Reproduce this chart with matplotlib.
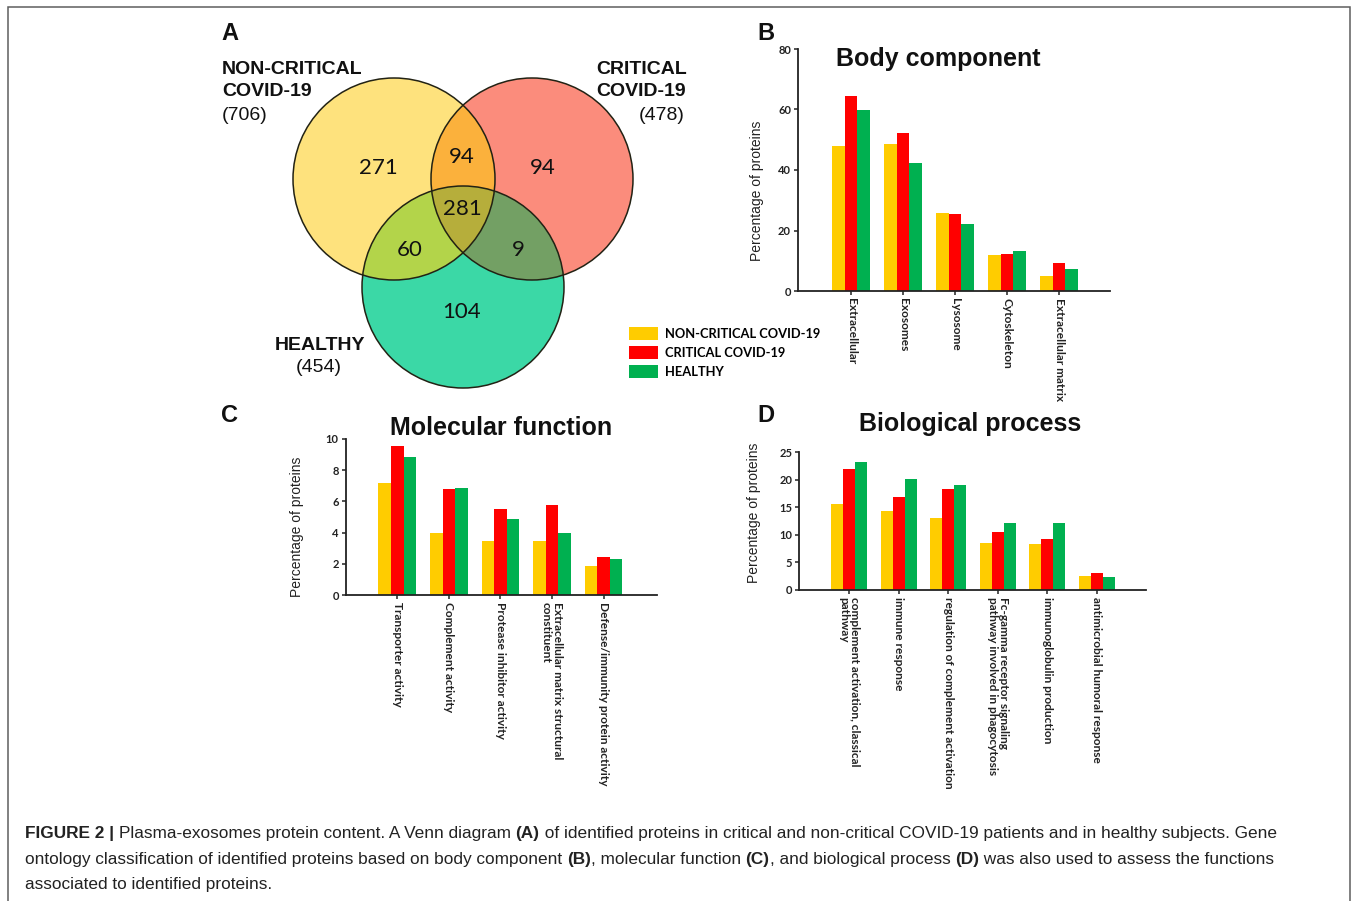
import numpy as np
import matplotlib
matplotlib.use("Agg")
import matplotlib.pyplot as plt
from matplotlib.patches import Circle, Polygon, Patch

# ---------------- data ----------------
groups = ["NON-CRITICAL COVID-19", "CRITICAL COVID-19", "HEALTHY"]
bar_colors = ["#FFCC00", "#FF0000", "#00B050"]

# Venn region counts (N = non-critical, C = critical, H = healthy)
venn_only_n = 271
venn_only_c = 94
venn_only_h = 104
venn_n_c = 94
venn_n_h = 60
venn_c_h = 9
venn_all = 281
venn_totals = [706, 478, 454]

body_cats = ["Extracellular", "Exosomes", "Lysosome", "Cytoskeleton", "Extracellular matrix"]
body_noncrit = [48.0, 48.7, 25.8, 11.8, 5.1]
body_crit = [64.5, 52.1, 25.6, 12.1, 9.3]
body_healthy = [59.8, 42.4, 22.0, 13.1, 7.3]

mol_cats = ["Transporter activity", "Complement activity", "Protease inhibitor activity",
            "Extracellular matrix structural\nconstituent", "Defense/immunity protein activity"]
mol_noncrit = [7.16, 4.0, 3.48, 3.48, 1.86]
mol_crit = [9.57, 6.81, 5.49, 5.75, 2.46]
mol_healthy = [8.83, 6.83, 4.87, 4.0, 2.29]

bio_cats = ["complement activation, classical\npathway", "immune response",
            "regulation of complement activation",
            "Fc-gamma receptor signaling\npathway involved in phagocytosis",
            "immunoglobulin production", "antimicrobial humoral response"]
bio_noncrit = [15.6, 14.3, 13.0, 8.5, 8.3, 2.5]
bio_crit = [22.0, 16.9, 18.3, 10.5, 9.3, 3.0]
bio_healthy = [23.3, 20.1, 19.0, 12.1, 12.1, 2.3]

# ---------------- figure ----------------
W, H = 1356, 901
fig = plt.figure(figsize=(W / 100, H / 100), dpi=100)
fig.patch.set_facecolor("white")

# pixel-space canvas for the Venn diagram, labels, caption and frame
ax0 = fig.add_axes([0, 0, 1, 1])
ax0.set_xlim(0, W)
ax0.set_ylim(H, 0)
ax0.axis("off")

ARIAL = "Liberation Sans"
CAL = "Lato"

# frame around the figure
ax0.plot([8, 8, 1350, 1350], [905, 6.5, 6.5, 905], color="#5e5e5e", lw=1.1,
         solid_joinstyle="miter", clip_on=False)

# ---------------- Venn diagram ----------------
r = 101
cN = np.array([394.0, 179.0])
cC = np.array([532.0, 179.0])
cH = np.array([463.0, 287.0])

col_n, col_c, col_h = "#FEE27D", "#FB8C7C", "#3BD8A6"
col_nc, col_nh, col_ch, col_all = "#FBB13C", "#B3D44A", "#73A064", "#B6AE3B"


def circ(c, **kw):
    return Circle(tuple(c), r, transform=ax0.transData, **kw)


def lens(c1, c2):
    t = np.linspace(0, 2 * np.pi, 1440)
    ring = np.column_stack([np.cos(t), np.sin(t)]) * r
    p1 = c1 + ring
    p2 = c2 + ring
    p1 = p1[np.hypot(*(p1 - c2).T) <= r]
    p2 = p2[np.hypot(*(p2 - c1).T) <= r]
    pts = np.vstack([p1, p2])
    m = pts.mean(axis=0)
    order = np.argsort(np.arctan2(pts[:, 1] - m[1], pts[:, 0] - m[0]))
    return pts[order]


for c, col in [(cN, col_n), (cC, col_c), (cH, col_h)]:
    ax0.add_patch(circ(c, facecolor=col, edgecolor="none"))

p = circ(cC, facecolor=col_nc, edgecolor="none")
ax0.add_patch(p)
p.set_clip_path(circ(cN))
p = circ(cH, facecolor=col_nh, edgecolor="none")
ax0.add_patch(p)
p.set_clip_path(circ(cN))
p = circ(cH, facecolor=col_ch, edgecolor="none")
ax0.add_patch(p)
p.set_clip_path(circ(cC))
p = Polygon(lens(cC, cH), closed=True, facecolor=col_all, edgecolor="none",
            transform=ax0.transData)
ax0.add_patch(p)
p.set_clip_path(circ(cN))

for c in (cN, cC, cH):
    ax0.add_patch(circ(c, facecolor="none", edgecolor="#222214", lw=1.1))

vkw = dict(fontsize=16, family=CAL, ha="center", va="center", color="#111111")
ax0.text(378, 168, str(venn_only_n), **vkw)
ax0.text(543, 168, str(venn_only_c), **vkw)
ax0.text(462, 312, str(venn_only_h), **vkw)
ax0.text(462, 157, str(venn_n_c), **vkw)
ax0.text(410, 250, str(venn_n_h), **vkw)
ax0.text(518, 250, str(venn_c_h), **vkw)
ax0.text(462, 209, str(venn_all), **vkw)

lkw = dict(fontsize=14, family=ARIAL, color="#111111", va="center")
ax0.text(222, 70, "NON-CRITICAL", fontweight="bold", ha="left", **lkw)
ax0.text(222, 92, "COVID-19", fontweight="bold", ha="left", **lkw)
ax0.text(222, 115, f"({venn_totals[0]})", ha="left", **lkw)
ax0.text(596, 70, "CRITICAL", fontweight="bold", ha="left", **lkw)
ax0.text(596, 92, "COVID-19", fontweight="bold", ha="left", **lkw)
ax0.text(685, 115, f"({venn_totals[1]})", ha="right", **lkw)
ax0.text(320, 345, "HEALTHY", fontweight="bold", ha="center", **lkw)
ax0.text(319, 367, f"({venn_totals[2]})", ha="center", **lkw)

# panel letters
for lab, x, y in [("A", 221, 34), ("B", 757, 34), ("C", 221, 415), ("D", 757, 415)]:
    ax0.text(x, y, lab, fontsize=17, fontweight="bold", family=ARIAL,
             ha="left", va="center", color="#111111")


# ---------------- bar panels ----------------
def bar_panel(rect, cats, series, ymax, yticks, xlim, title, title_xy, ylab_xy):
    ax = fig.add_axes(rect)
    x = np.arange(len(cats))
    w = 0.243
    for i, (vals, col) in enumerate(zip(series, bar_colors)):
        ax.bar(x + (i - 1) * w, vals, width=w, color=col, edgecolor="none",
               label=groups[i])
    ax.set_xlim(*xlim)
    ax.set_ylim(0, ymax)
    ax.set_yticks(yticks)
    ax.set_xticks(x)
    ax.set_xticklabels(cats, rotation=-90, ha="center", va="top",
                       multialignment="left", family=CAL, fontweight="bold",
                       fontsize=8.6, linespacing=1.0)
    for t in ax.get_yticklabels():
        t.set_family(CAL)
        t.set_fontweight("bold")
        t.set_fontsize(8)
    for s in ("top", "right"):
        ax.spines[s].set_visible(False)
    for s in ("left", "bottom"):
        ax.spines[s].set_linewidth(1.3)
        ax.spines[s].set_color("#222222")
    ax.tick_params(direction="out", length=3, width=1.1, pad=2, colors="#222222")
    ax.patch.set_alpha(0)
    ax0.text(*title_xy, title, fontsize=18, fontweight="bold", family=ARIAL,
             ha="center", va="center", color="#111111")
    ax0.text(*ylab_xy, "Percentage of proteins", rotation=90, fontsize=10,
             family=ARIAL, ha="center", va="center", color="#222222")
    return ax


axB = bar_panel([798 / W, 1 - 291 / H, 312 / W, 242 / H], body_cats,
                [body_noncrit, body_crit, body_healthy], 80, [0, 20, 40, 60, 80],
                (-1.02, 4.98), "Body component", (938, 59), (757, 191))
axC = bar_panel([345.7 / W, 1 - 595 / H, 311 / W, 156 / H], mol_cats,
                [mol_noncrit, mol_crit, mol_healthy], 10, [0, 2, 4, 6, 8, 10],
                (-1.0, 5.03), "Molecular function", (501, 428), (297, 527))
axD = bar_panel([799.3 / W, 1 - 590 / H, 346.7 / W, 137.7 / H], bio_cats,
                [bio_noncrit, bio_crit, bio_healthy], 25, [0, 5, 10, 15, 20, 25],
                (-1.01, 5.99), "Biological process", (970, 424), (754, 513))

# legend for the bar charts
fig.legend(handles=[Patch(facecolor=c, edgecolor="none") for c in bar_colors],
           labels=groups, loc="upper left", bbox_to_anchor=(629 / W, 1 - 327 / H),
           frameon=False, borderpad=0, borderaxespad=0, handlelength=2.25,
           handleheight=1.2, handletextpad=0.55, labelspacing=0.45,
           prop=dict(family=CAL, weight="bold", size=9.3))

# ---------------- caption ----------------
renderer = fig.canvas.get_renderer()


def rich_line(x, y, segments, size=12.45):
    for txt, bold in segments:
        t = ax0.text(x, y, txt, fontsize=size, family=ARIAL,
                     fontweight="bold" if bold else "normal",
                     ha="left", va="baseline", color="#222222")
        bb = t.get_window_extent(renderer)
        x += bb.width


rich_line(25, 838, [("FIGURE 2 | ", True),
                    ("Plasma-exosomes protein content. A Venn diagram ", False), ("(A)", True),
                    (" of identified proteins in critical and non-critical COVID-19 patients and in healthy subjects. Gene", False)])
rich_line(25, 864, [("ontology classification of identified proteins based on body component ", False),
                    ("(B)", True), (", molecular function ", False), ("(C)", True),
                    (", and biological process ", False), ("(D)", True),
                    (" was also used to assess the functions", False)])
rich_line(25, 889, [("associated to identified proteins.", False)])

fig.savefig("out.png", dpi=100, facecolor="white")
